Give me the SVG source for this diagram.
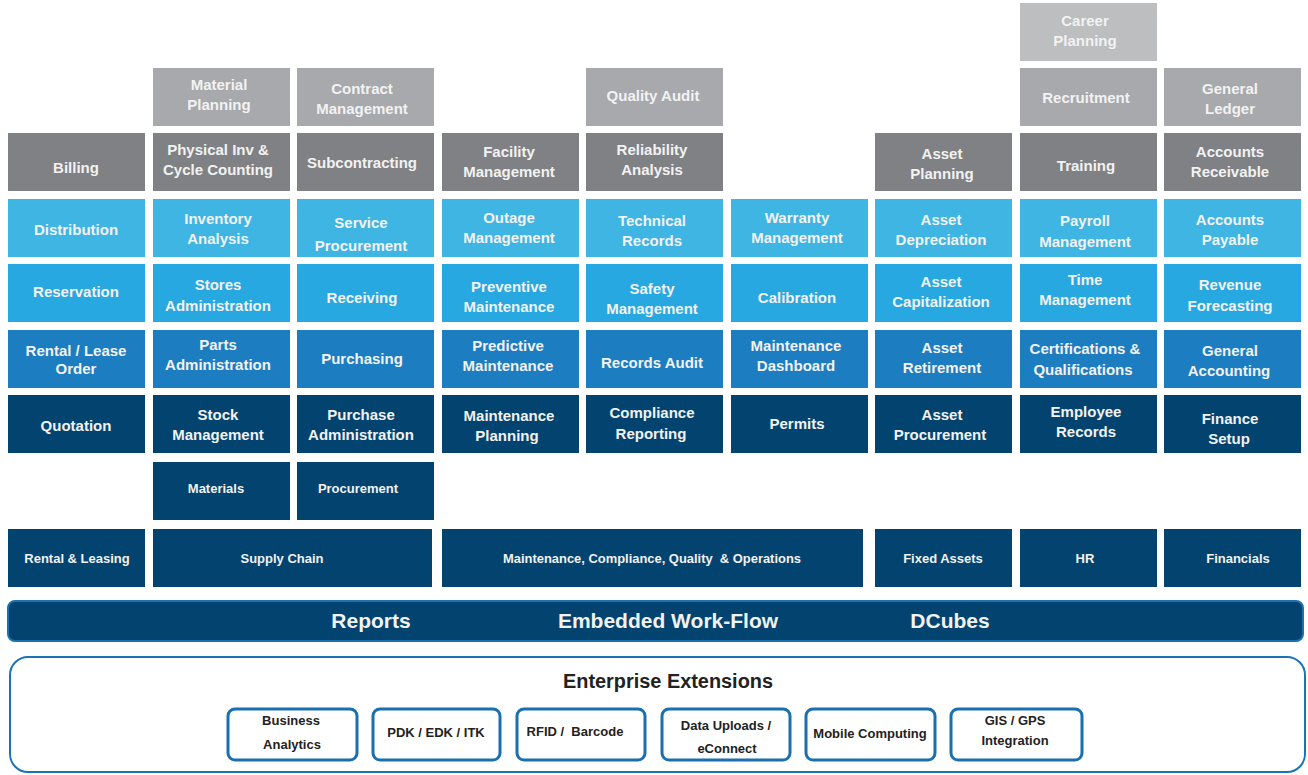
<svg xmlns="http://www.w3.org/2000/svg" width="1308" height="775" viewBox="0 0 1308 775">
<style>
.r0{fill:#bcbec0}.r1{fill:#a7a9ac}.r2{fill:#808184}.r3{fill:#3fb5e4}.r4{fill:#27a8e0}.r5{fill:#1c7dc1}.r6{fill:#03436f}
.t{font-family:"Liberation Sans",Arial,sans-serif;font-weight:bold;font-size:15px;fill:#f2f2f2;text-anchor:middle}
.s{font-size:13px}
.pre{white-space:pre}
.bar{fill:#03436f;stroke:#1b72b0;stroke-width:2}
.bt{font-family:"Liberation Sans",Arial,sans-serif;font-weight:bold;font-size:21px;fill:#f2f2f2;text-anchor:middle}
.ext{fill:#fff;stroke:#1b72b4;stroke-width:2}
.eb{fill:#fff;stroke:#1b6fae;stroke-width:3}
.et{font-family:"Liberation Sans",Arial,sans-serif;font-weight:bold;font-size:13px;fill:#222;text-anchor:middle}
</style>
<rect width="1308" height="775" fill="#fff"/>
<g id="connectors"/>
<!-- Row 0 -->
<g id="career-planning"><rect class="r0" x="1020" y="3" width="137" height="58"/><text class="t" x="1085" y="26">Career</text><text class="t" x="1085" y="46">Planning</text></g>
<!-- Row 1 -->
<g id="material-planning"><rect class="r1" x="153" y="68" width="137" height="58"/><text class="t" x="219" y="90">Material</text><text class="t" x="219" y="110">Planning</text></g>
<g id="contract-management"><rect class="r1" x="297" y="68" width="137" height="58"/><text class="t" x="362" y="94">Contract</text><text class="t" x="362" y="114">Management</text></g>
<g id="quality-audit"><rect class="r1" x="586" y="68" width="137" height="58"/><text class="t" x="653" y="101">Quality Audit</text></g>
<g id="recruitment"><rect class="r1" x="1020" y="68" width="137" height="58"/><text class="t" x="1086" y="103">Recruitment</text></g>
<g id="general-ledger"><rect class="r1" x="1164" y="68" width="137" height="58"/><text class="t" x="1230" y="94">General</text><text class="t" x="1230" y="114">Ledger</text></g>
<!-- Row 2 -->
<g id="billing"><rect class="r2" x="8" y="133" width="137" height="58"/><text class="t" x="76" y="173">Billing</text></g>
<g id="physical-inv"><rect class="r2" x="153" y="133" width="137" height="58"/><text class="t" x="218" y="155">Physical Inv &amp;</text><text class="t" x="218" y="175">Cycle Counting</text></g>
<g id="subcontracting"><rect class="r2" x="297" y="133" width="137" height="58"/><text class="t" x="362" y="168">Subcontracting</text></g>
<g id="facility-management"><rect class="r2" x="442" y="133" width="137" height="58"/><text class="t" x="509" y="157">Facility</text><text class="t" x="509" y="177">Management</text></g>
<g id="reliability-analysis"><rect class="r2" x="586" y="133" width="137" height="58"/><text class="t" x="652" y="155">Reliability</text><text class="t" x="652" y="175">Analysis</text></g>
<g id="asset-planning"><rect class="r2" x="875" y="133" width="137" height="58"/><text class="t" x="942" y="159">Asset</text><text class="t" x="942" y="179">Planning</text></g>
<g id="training"><rect class="r2" x="1020" y="133" width="137" height="58"/><text class="t" x="1086" y="171">Training</text></g>
<g id="accounts-receivable"><rect class="r2" x="1164" y="133" width="137" height="58"/><text class="t" x="1230" y="157">Accounts</text><text class="t" x="1230" y="177">Receivable</text></g>
<!-- Row 3 -->
<g id="distribution"><rect class="r3" x="8" y="199" width="137" height="58"/><text class="t" x="76" y="235">Distribution</text></g>
<g id="inventory-analysis"><rect class="r3" x="153" y="199" width="137" height="58"/><text class="t" x="218" y="224">Inventory</text><text class="t" x="218" y="244">Analysis</text></g>
<g id="service-procurement"><rect class="r3" x="297" y="199" width="137" height="58"/><text class="t" x="361" y="228">Service</text><text class="t" x="361" y="251">Procurement</text></g>
<g id="outage-management"><rect class="r3" x="442" y="199" width="137" height="58"/><text class="t" x="509" y="223">Outage</text><text class="t" x="509" y="243">Management</text></g>
<g id="technical-records"><rect class="r3" x="586" y="199" width="137" height="58"/><text class="t" x="652" y="226">Technical</text><text class="t" x="652" y="246">Records</text></g>
<g id="warranty-management"><rect class="r3" x="731" y="199" width="137" height="58"/><text class="t" x="797" y="223">Warranty</text><text class="t" x="797" y="243">Management</text></g>
<g id="asset-depreciation"><rect class="r3" x="875" y="199" width="137" height="58"/><text class="t" x="941" y="225">Asset</text><text class="t" x="941" y="245">Depreciation</text></g>
<g id="payroll-management"><rect class="r3" x="1020" y="199" width="137" height="58"/><text class="t" x="1085" y="226">Payroll</text><text class="t" x="1085" y="247">Management</text></g>
<g id="accounts-payable"><rect class="r3" x="1164" y="199" width="137" height="58"/><text class="t" x="1230" y="225">Accounts</text><text class="t" x="1230" y="245">Payable</text></g>
<!-- Row 4 -->
<g id="reservation"><rect class="r4" x="8" y="264" width="137" height="58"/><text class="t" x="76" y="297">Reservation</text></g>
<g id="stores-administration"><rect class="r4" x="153" y="264" width="137" height="58"/><text class="t" x="218" y="290">Stores</text><text class="t" x="218" y="311">Administration</text></g>
<g id="receiving"><rect class="r4" x="297" y="264" width="137" height="58"/><text class="t" x="362" y="303">Receiving</text></g>
<g id="preventive-maintenance"><rect class="r4" x="442" y="264" width="137" height="58"/><text class="t" x="509" y="292">Preventive</text><text class="t" x="509" y="312">Maintenance</text></g>
<g id="safety-management"><rect class="r4" x="586" y="264" width="137" height="58"/><text class="t" x="652" y="294">Safety</text><text class="t" x="652" y="314">Management</text></g>
<g id="calibration"><rect class="r4" x="731" y="264" width="137" height="58"/><text class="t" x="797" y="303">Calibration</text></g>
<g id="asset-capitalization"><rect class="r4" x="875" y="264" width="137" height="58"/><text class="t" x="941" y="287">Asset</text><text class="t" x="941" y="307">Capitalization</text></g>
<g id="time-management"><rect class="r4" x="1020" y="264" width="137" height="58"/><text class="t" x="1085" y="285">Time</text><text class="t" x="1085" y="305">Management</text></g>
<g id="revenue-forecasting"><rect class="r4" x="1164" y="264" width="137" height="58"/><text class="t" x="1230" y="290">Revenue</text><text class="t" x="1230" y="311">Forecasting</text></g>
<!-- Row 5 -->
<g id="rental-lease-order"><rect class="r5" x="8" y="330" width="137" height="58"/><text class="t" x="76" y="356">Rental / Lease</text><text class="t" x="76" y="374">Order</text></g>
<g id="parts-administration"><rect class="r5" x="153" y="330" width="137" height="58"/><text class="t" x="218" y="350">Parts</text><text class="t" x="218" y="370">Administration</text></g>
<g id="purchasing"><rect class="r5" x="297" y="330" width="137" height="58"/><text class="t" x="362" y="364">Purchasing</text></g>
<g id="predictive-maintenance"><rect class="r5" x="442" y="330" width="137" height="58"/><text class="t" x="508" y="351">Predictive</text><text class="t" x="508" y="371">Maintenance</text></g>
<g id="records-audit"><rect class="r5" x="586" y="330" width="137" height="58"/><text class="t" x="652" y="368">Records Audit</text></g>
<g id="maintenance-dashboard"><rect class="r5" x="731" y="330" width="137" height="58"/><text class="t" x="796" y="351">Maintenance</text><text class="t" x="796" y="371">Dashboard</text></g>
<g id="asset-retirement"><rect class="r5" x="875" y="330" width="137" height="58"/><text class="t" x="942" y="353">Asset</text><text class="t" x="942" y="373">Retirement</text></g>
<g id="certifications"><rect class="r5" x="1020" y="330" width="137" height="58"/><text class="t" x="1085" y="354">Certifications &amp;</text><text class="t" x="1083" y="375">Qualifications</text></g>
<g id="general-accounting"><rect class="r5" x="1164" y="330" width="137" height="58"/><text class="t" x="1230" y="356">General</text><text class="t" x="1229" y="376">Accounting</text></g>
<!-- Row 6 -->
<g id="quotation"><rect class="r6" x="8" y="395" width="137" height="58"/><text class="t" x="76" y="431">Quotation</text></g>
<g id="stock-management"><rect class="r6" x="153" y="395" width="137" height="58"/><text class="t" x="218" y="420">Stock</text><text class="t" x="218" y="440">Management</text></g>
<g id="purchase-administration"><rect class="r6" x="297" y="395" width="137" height="58"/><text class="t" x="361" y="420">Purchase</text><text class="t" x="361" y="440">Administration</text></g>
<g id="maintenance-planning"><rect class="r6" x="442" y="395" width="137" height="58"/><text class="t" x="509" y="421">Maintenance</text><text class="t" x="507" y="441">Planning</text></g>
<g id="compliance-reporting"><rect class="r6" x="586" y="395" width="137" height="58"/><text class="t" x="652" y="418">Compliance</text><text class="t" x="651" y="439">Reporting</text></g>
<g id="permits"><rect class="r6" x="731" y="395" width="137" height="58"/><text class="t" x="797" y="429">Permits</text></g>
<g id="asset-procurement"><rect class="r6" x="875" y="395" width="137" height="58"/><text class="t" x="942" y="420">Asset</text><text class="t" x="940" y="440">Procurement</text></g>
<g id="employee-records"><rect class="r6" x="1020" y="395" width="137" height="58"/><text class="t" x="1086" y="417">Employee</text><text class="t" x="1086" y="437">Records</text></g>
<g id="finance-setup"><rect class="r6" x="1164" y="395" width="137" height="58"/><text class="t" x="1230" y="424">Finance</text><text class="t" x="1229" y="444">Setup</text></g>
<!-- Row 7 -->
<g id="materials"><rect class="r6" x="153" y="462" width="137" height="58"/><text class="t s" x="216" y="493">Materials</text></g>
<g id="procurement"><rect class="r6" x="297" y="462" width="137" height="58"/><text class="t s" x="358" y="493">Procurement</text></g>
<!-- Row 8 categories -->
<g id="rental-leasing"><rect class="r6" x="8" y="529" width="137" height="58"/><text class="t s" x="77" y="563">Rental &amp; Leasing</text></g>
<g id="supply-chain"><rect class="r6" x="153" y="529" width="279" height="58"/><text class="t s" x="282" y="563">Supply Chain</text></g>
<g id="maintenance-compliance"><rect class="r6" x="442" y="529" width="421" height="58"/><text class="t s pre" x="652" y="563" textLength="298" lengthAdjust="spacingAndGlyphs">Maintenance, Compliance, Quality  &amp; Operations</text></g>
<g id="fixed-assets"><rect class="r6" x="875" y="529" width="137" height="58"/><text class="t s" x="943" y="563">Fixed Assets</text></g>
<g id="hr"><rect class="r6" x="1020" y="529" width="137" height="58"/><text class="t s" x="1085" y="563">HR</text></g>
<g id="financials"><rect class="r6" x="1164" y="529" width="137" height="58"/><text class="t s" x="1238" y="563">Financials</text></g>
<!-- Reports bar -->
<g id="platform-bar"><rect class="bar" x="8" y="601" width="1295" height="40" rx="7"/>
<text class="bt" x="371" y="628">Reports</text>
<text class="bt" x="668" y="628">Embedded Work-Flow</text>
<text class="bt" x="950" y="628">DCubes</text></g>
<!-- Enterprise Extensions -->
<g id="enterprise-extensions"><rect class="ext" x="10" y="657" width="1295" height="115" rx="18"/>
<text class="et" x="668" y="688" style="font-size:20px" textLength="210" lengthAdjust="spacingAndGlyphs">Enterprise Extensions</text></g>
<g id="business-analytics"><rect class="eb" x="228" y="709" width="129" height="51" rx="7"/><text class="et" x="291" y="725">Business</text><text class="et" x="292" y="749">Analytics</text></g>
<g id="pdk"><rect class="eb" x="373" y="709" width="127" height="51" rx="7"/><text class="et" x="436" y="737">PDK / EDK / ITK</text></g>
<g id="rfid"><rect class="eb" x="517" y="709" width="128" height="51" rx="7"/><text class="et pre" x="575" y="736">RFID /  Barcode</text></g>
<g id="data-uploads"><rect class="eb" x="662" y="709" width="128" height="51" rx="7"/><text class="et" x="726" y="730">Data Uploads /</text><text class="et" x="727" y="753">eConnect</text></g>
<g id="mobile-computing"><rect class="eb" x="806" y="709" width="129" height="51" rx="7"/><text class="et" x="870" y="738">Mobile Computing</text></g>
<g id="gis-gps"><rect class="eb" x="951" y="709" width="131" height="51" rx="7"/><text class="et" x="1015" y="725">GIS / GPS</text><text class="et" x="1015" y="745">Integration</text></g>
</svg>
